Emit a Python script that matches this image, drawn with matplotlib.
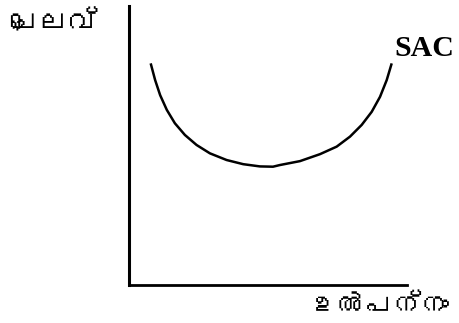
import matplotlib
matplotlib.use("Agg")
import matplotlib.pyplot as plt
from matplotlib import font_manager
from matplotlib.ft2font import FT2Font

# ---- data ----
y_label = "ചെലവ്"
x_label = "ഉൽപന്നം"
curve_label = "SAC"
curve_x = [0.78, 0.94, 1.12, 1.36, 1.65, 2.01, 2.43, 2.91, 3.51, 4.11, 4.71,
           5.18, 5.43, 6.15, 6.87, 7.47, 7.95, 8.37, 8.73, 9.03, 9.27, 9.45]
curve_y = [7.94, 7.34, 6.80, 6.27, 5.79, 5.37, 5.01, 4.71, 4.47, 4.32, 4.24,
           4.23, 4.29, 4.43, 4.68, 4.95, 5.31, 5.73, 6.20, 6.74, 7.34, 7.94]

# find a font that has Malayalam glyphs
mal_family = None
for f in font_manager.fontManager.ttflist:
    try:
        cm = FT2Font(f.fname).get_charmap()
        if 0x0D1A in cm and 0x0D32 in cm:
            mal_family = f.name
            break
    except Exception:
        pass
fams = ([mal_family] if mal_family else []) + ["DejaVu Sans"]

fig = plt.figure(figsize=(4.59, 3.23), dpi=100)
ax = fig.add_axes([129 / 459, 1 - 284.5 / 323, (407 - 129) / 459, (284.5 - 6) / 323])
ax.set_xlim(0, 10)
ax.set_ylim(0, 10)
for s in ("top", "right"):
    ax.spines[s].set_visible(False)
ax.spines["left"].set_linewidth(2.2)
ax.spines["bottom"].set_linewidth(2.0)
ax.set_xticks([])
ax.set_yticks([])

ax.plot(curve_x, curve_y, color="black", lw=1.8, solid_joinstyle="round",
        solid_capstyle="butt")

fig.text(10 / 459, 1 - 24 / 323, y_label, family=fams, fontsize=21, va="center", ha="left")
fig.text(450 / 459, 1 - 306 / 323, x_label, family=fams, fontsize=20, va="center", ha="right")
fig.text(394 / 459, 1 - 49 / 323, curve_label, family="Liberation Serif", fontweight="bold",
         fontsize=21.5, va="center", ha="left")

fig.savefig("out.png", dpi=100, facecolor="white")
